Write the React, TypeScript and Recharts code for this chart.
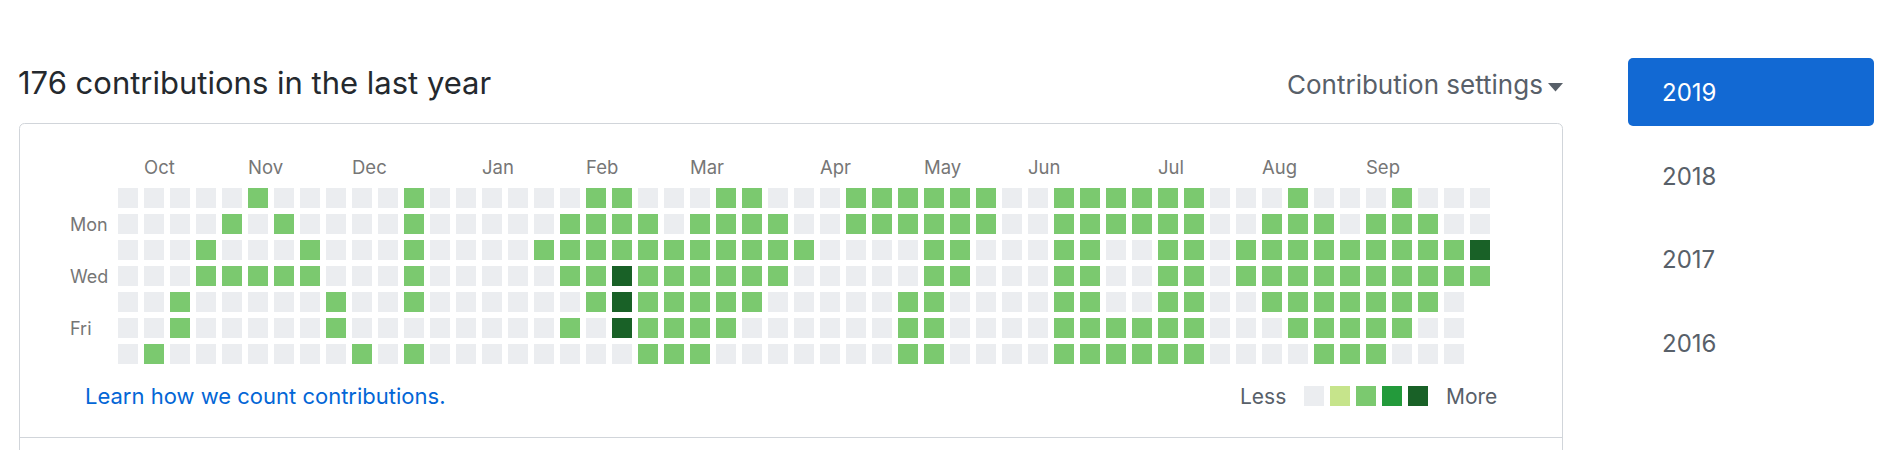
import React from 'react';
import { ScatterChart, Scatter, XAxis, YAxis } from 'recharts';

const FONT = 'Inter, "Noto Sans", "Liberation Sans", sans-serif';

// month labels and the week column each one starts at
const monthLabels = ['Oct', 'Nov', 'Dec', 'Jan', 'Feb', 'Mar', 'Apr', 'May', 'Jun', 'Jul', 'Aug', 'Sep'];
const monthWeeks = [1, 5, 9, 14, 18, 22, 27, 31, 35, 40, 44, 48];

// weekday labels and their row index (0 = Sunday)
const dayLabels = ['Mon', 'Wed', 'Fri'];
const dayRows = [1, 3, 5];

// contribution level colours (0 = none ... 4 = most)
const levelColors = ['#ebedf0', '#c6e48b', '#7bc96f', '#239a3b', '#196127'];
const legendLevels = [0, 1, 2, 3, 4];

const yearLabels = ['2019', '2018', '2017', '2016'];

// contribution level per week (53 columns), one array per weekday; null = day not reached yet
const sunday = [0,0,0,0,0,2,0,0,0,0, 0,2,0,0,0,0,0,0,2,2, 0,0,0,2,2,0,0,0,2,2, 2,2,2,2,0,0,2,2,2,2, 2,2,0,0,0,2,0,0,0,2, 0,0,0];
const monday = [0,0,0,0,2,0,2,0,0,0, 0,2,0,0,0,0,0,2,2,2, 2,0,2,2,2,2,0,0,2,2, 2,2,2,2,0,0,2,2,2,2, 2,2,0,0,2,2,2,0,2,2, 2,0,0];
const tuesday = [0,0,0,2,0,0,0,2,0,0, 0,2,0,0,0,0,2,2,2,2, 2,2,2,2,2,2,2,0,0,0, 0,2,2,0,0,0,2,2,0,0, 2,2,0,2,2,2,2,2,2,2, 2,2,4];
const wednesday = [0,0,0,2,2,2,2,2,0,0, 0,2,0,0,0,0,0,2,2,4, 2,2,2,2,2,2,0,0,0,0, 0,2,2,0,0,0,2,2,0,0, 2,2,0,2,2,2,2,2,2,2, 2,2,2];
const thursday = [0,0,2,0,0,0,0,0,2,0, 0,2,0,0,0,0,0,0,2,4, 2,2,2,2,2,0,0,0,0,0, 2,2,0,0,0,0,2,2,0,0, 2,2,0,0,2,2,2,2,2,2, 2,0,null];
const friday = [0,0,2,0,0,0,0,0,2,0, 0,0,0,0,0,0,0,2,0,4, 2,2,2,2,0,0,0,0,0,0, 2,2,0,0,0,0,2,2,2,2, 2,2,0,0,0,2,2,2,2,2, 0,0,null];
const saturday = [0,2,0,0,0,0,0,0,0,2, 0,2,0,0,0,0,0,0,0,0, 2,2,2,0,0,0,0,0,0,0, 2,2,0,0,0,0,2,2,2,2, 2,2,0,0,0,0,2,2,2,0, 0,0,null];

const weekdayRows = [sunday, monday, tuesday, wednesday, thursday, friday, saturday];

const cells: { week: number; day: number; level: number }[] = [];
weekdayRows.forEach((row, day) => {
  row.forEach((level, week) => {
    if (level !== null) cells.push({ week, day, level: level as number });
  });
});

const CELL = 20;

const CellShape = (props: any) => {
  const { cx, cy, payload } = props;
  return (
    <rect
      x={cx - CELL / 2}
      y={cy - CELL / 2}
      width={CELL}
      height={CELL}
      fill={levelColors[payload.level]}
    />
  );
};

const MonthTick = (props: any) => {
  const { x, y, payload } = props;
  const i = monthWeeks.indexOf(payload.value);
  return (
    <text x={x - CELL / 2} y={y - 11} textAnchor="start" fill="#767676" fontSize={18.5} fontFamily={FONT}>
      {monthLabels[i]}
    </text>
  );
};

const DayTick = (props: any) => {
  const { x, y, payload } = props;
  const i = dayRows.indexOf(payload.value);
  return (
    <text x={x - 45} y={y + 6.5} textAnchor="start" fill="#767676" fontSize={18} fontFamily={FONT}>
      {dayLabels[i]}
    </text>
  );
};

export default function App() {
  return (
    <div style={{ position: 'absolute', left: 0, top: 0, width: 1904, height: 450, background: '#fff', overflow: 'hidden', fontFamily: FONT }}>
      <svg width={1904} height={450} style={{ position: 'absolute', left: 0, top: 0 }}>
        <rect x={19.5} y={123.5} width={1543} height={360} rx={5} fill="#fff" stroke="#d1d5da" strokeWidth={1} />
        <line x1={19.5} x2={1562.5} y1={437.5} y2={437.5} stroke="#d1d5da" strokeWidth={1} />
        <text x={18} y={94} fontSize={31} fill="#24292e" fontFamily={FONT}>176 contributions in the last year</text>
        <text x={1287} y={94} fontSize={26} fill="#586069" fontFamily={FONT}>Contribution settings</text>
        <polygon points="1548,83 1563,83 1555.5,91.5" fill="#586069" />
        <text x={85} y={404} fontSize={22} fill="#0366d6" fontFamily={FONT}>Learn how we count contributions.</text>
        <text x={1240} y={404} fontSize={21} fill="#586069" fontFamily={FONT}>Less</text>
        {legendLevels.map((lv, i) => (
          <rect key={lv} x={1304 + i * 26} y={386} width={20} height={20} fill={levelColors[lv]} />
        ))}
        <text x={1446} y={404} fontSize={21} fill="#586069" fontFamily={FONT}>More</text>
        <rect x={1628} y={58} width={246} height={68} rx={5} fill="#1269d3" />
        {yearLabels.map((yl, i) => (
          <text key={yl} x={1662} y={101 + i * 83.7} fontSize={24} fill={i === 0 ? '#ffffff' : '#586069'} fontFamily={FONT}>
            {yl}
          </text>
        ))}
      </svg>
      <div style={{ position: 'absolute', left: 0, top: 0 }}>
        <ScatterChart width={1520} height={380} margin={{ top: 145, right: 27, bottom: 13, left: 0 }}>
          <XAxis
            type="number"
            dataKey="week"
            orientation="top"
            domain={[-0.5, 52.5]}
            ticks={monthWeeks}
            interval={0}
            height={40}
            axisLine={false}
            tickLine={false}
            tickSize={0}
            tickMargin={0}
            tick={MonthTick}
          />
          <YAxis
            type="number"
            dataKey="day"
            domain={[-0.5, 6.5]}
            reversed
            ticks={dayRows}
            interval={0}
            width={115}
            axisLine={false}
            tickLine={false}
            tickSize={0}
            tickMargin={0}
            tick={DayTick}
          />
          <Scatter data={cells} isAnimationActive={false} shape={CellShape} />
        </ScatterChart>
      </div>
    </div>
  );
}
